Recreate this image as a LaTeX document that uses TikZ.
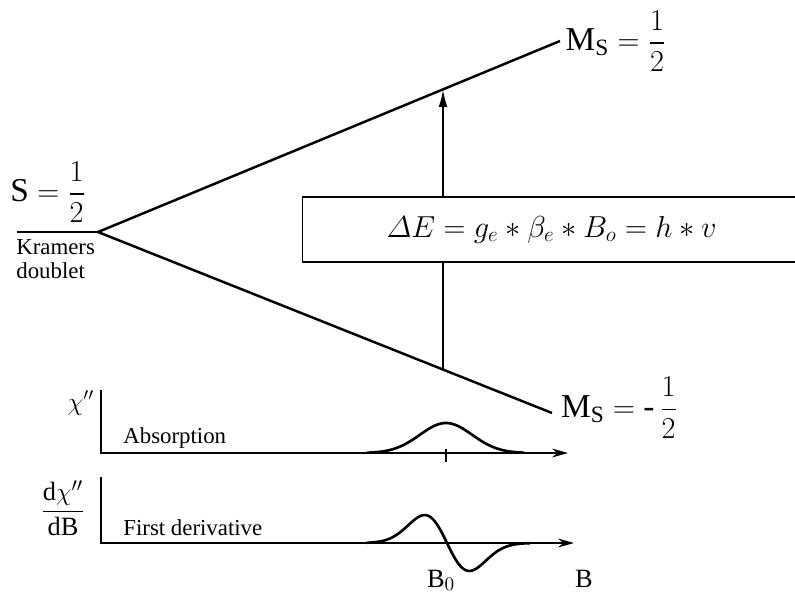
\documentclass[tikz,border=0pt]{standalone}
\usepackage{amsmath}
\usepackage{fontspec}
\setmainfont{Liberation Serif}
\usetikzlibrary{arrows.meta, positioning, calc, backgrounds}
\tikzset{
  level/.style={line width=1.4pt},
  axis/.style={line width=1.0pt, -{Stealth[length=9pt,width=5pt]}},
  transition/.style={line width=1.2pt, -{Latex[length=10pt,width=5pt]}},
  signal/.style={line width=1.5pt},
  bigtxt/.style={font=\fontsize{19}{22}\selectfont, inner sep=1pt},
  midtxt/.style={font=\fontsize{15}{17}\selectfont, inner sep=1pt},
  smalltxt/.style={font=\fontsize{13}{13.5}\selectfont, inner sep=0pt},
  eqbox/.style={
    rectangle, draw, fill=white, line width=0.8pt,
    minimum width=9.96cm, minimum height=1.3cm,
    font=\fontsize{18.5}{21}\selectfont
  }
}

\begin{document}
\begin{tikzpicture}[x=0.02cm, y=-0.02cm]
  \useasboundingbox (0,0) rectangle (795,599);

  %% ---- Zeeman splitting of the doublet ----
  \coordinate (kram-w) at (17,232);
  \coordinate (split)  at (98,232);
  \coordinate (up-end) at (560,41);
  \coordinate (lo-end) at (552,413);

  \draw[level] (kram-w) -- (split);
  \draw[level] (split) -- (up-end);
  \draw[level] (split) -- (lo-end);

  \node[bigtxt] (spin) at (48,192) {$\mathrm{S} = \dfrac{1}{2}$};
  \node[smalltxt, align=left, anchor=north west] (kramers) at (16,239)
    {Kramers\\doublet};

  \node[bigtxt, anchor=west] (ms-up) at ([xshift=2pt]up-end)
    {$\mathrm{M}_\mathrm{S} = \dfrac{1}{2}$};
  \node[bigtxt, anchor=west] (ms-lo) at ([xshift=4pt, yshift=3pt]lo-end)
    {$\mathrm{M}_\mathrm{S} = \mbox{-}\,\dfrac{1}{2}$};

  %% ---- resonance transition ----
  \coordinate (trans-lo) at ($(split)!0.760!(lo-end)$);
  \coordinate (trans-hi) at ($(split)!0.7468!(up-end)$);
  \draw[transition] (trans-lo) -- (trans-lo |- trans-hi);

  \node[eqbox, anchor=west] (eq) at (302,229.5)
    {$\varDelta E = g_e \ast \beta_e \ast B_o = h \ast v$\hspace{0.2cm}};

  %% ---- absorption line ----
  \coordinate (abs-top) at (101,390);
  \coordinate (abs-o)   at (101,453);
  \coordinate (abs-end) at (568,453);
  \coordinate (abs-b0)  at (446,453);

  \draw[axis] (abs-top) -- (abs-o) -- (abs-end);
  \draw[signal] plot[smooth, domain=367:524, samples=70]
    (\x, {453-30*exp(-(\x-446)*(\x-446)/1369)});
  \draw[line width=1.1pt] ($(abs-b0)+(0,-4)$) -- ($(abs-b0)+(0,9)$);

  \node[smalltxt, font=\fontsize{14}{16}\selectfont] (chi) at (81,403) {$\chi''$};
  \node[smalltxt, anchor=base west] (abslbl) at (123,443) {Absorption};

  %% ---- first derivative ----
  \coordinate (der-top) at (101,477);
  \coordinate (der-o)   at (101,543);
  \coordinate (der-end) at (574,543);

  \draw[axis] (der-top) -- (der-o) -- (der-end);
  \draw[signal] plot[smooth, domain=367:530, samples=90]
    (\x, {543+2.06*(\x-447)*exp(-(\x-447)*(\x-447)/1000)});

  \node[midtxt] (dchi) at (63,508) {$\dfrac{\mathrm{d}\chi''}{\mathrm{dB}}$};
  \node[smalltxt, anchor=base west] (derlbl) at (123,535) {First derivative};

  \node[midtxt, anchor=base west] (b0) at (425,587) {B$_0$};
  \node[midtxt, anchor=base west] (bfield) at (573,587) {B};

\end{tikzpicture}
\end{document}
